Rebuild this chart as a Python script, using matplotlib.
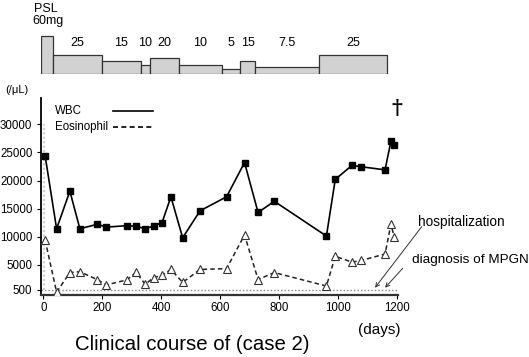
import numpy as np
import matplotlib
matplotlib.use("Agg")
import matplotlib.pyplot as plt

plt.rcParams['font.family'] = ['Liberation Sans', 'DejaVu Sans']

# ---- data ----
days = [6, 45, 90, 124, 183, 214, 284, 315, 346, 374, 403, 433, 473, 532,
        622, 683, 729, 784, 961, 991, 1048, 1079, 1160, 1180, 1191]
wbc = [24400, 11400, 18100, 11400, 12200, 11700, 11950, 11850, 11400, 11900,
       12500, 17100, 9800, 14600, 17100, 23200, 14300, 16300, 10100, 20200,
       22700, 22450, 21900, 27000, 26400]
eos = [9400, 100, 3600, 3750, 2350, 1400, 2300, 3650, 1500, 2700,
       3100, 4150, 1850, 4150, 4300, 10300, 2350, 3600, 1200, 6500,
       5450, 5750, 6900, 12200, 10000]

psl_start = [-9, 34, 198, 331, 362, 460, 606, 668, 719, 936]
psl_end = [34, 198, 331, 362, 460, 606, 668, 719, 936, 1168]
psl_dose = [60, 25, 15, 10, 20, 10, 5, 15, 7.5, 25]
psl_labels = ["", "25", "15", "10", "20", "10", "5", "15", "7.5", "25"]

yticks = [500, 5000, 10000, 15000, 20000, 25000, 30000]
xticks = [0, 200, 400, 600, 800, 1000, 1200]

W, H = 529, 357
fig = plt.figure(figsize=(W / 100, H / 100), dpi=100)

def fx(px):
    return px / W

def fy(py):
    return 1 - py / H

XLIM = (-9, 1204)

# ---- main axes ----
ax = fig.add_axes([fx(40.7), fy(295), fx(398) - fx(40.7), fy(98) - fy(295)])
ax.set_xlim(*XLIM)
ax.set_ylim(-400, 34700)

ax.axhline(500, color='#888888', lw=1.0, ls=(0, (1, 1.5)), zorder=1)
ax.plot([3, 3], [500, 30000], color='#cfcfcf', lw=1.6, ls=(0, (1, 1)), zorder=1)

ax.plot(days, wbc, color='black', lw=1.2, marker='s', ms=4,
        mfc='black', mec='black', zorder=3)
ax.plot(days, eos, color='#222222', lw=1.1, ls=(0, (3, 2)), marker='^', ms=5.5,
        mfc='white', mec='#333333', mew=0.8, zorder=3)

ax.spines['top'].set_visible(False)
ax.spines['right'].set_visible(False)
ax.spines['left'].set_linewidth(1.3)
ax.spines['bottom'].set_linewidth(1.6)
ax.spines['bottom'].set_color('#333333')
ax.set_xticks(xticks)
ax.set_yticks(yticks)
ax.tick_params(axis='both', labelsize=8.3, length=3, width=0.8, pad=2)
ax.tick_params(axis='y', pad=3)

# legend (manual)
ax.text(0.040, 0.934, "WBC", transform=ax.transAxes, fontsize=8.3, va='center', ha='left')
ax.text(0.040, 0.855, "Eosinophil", transform=ax.transAxes, fontsize=8.3, va='center', ha='left')
ax.plot([0.203, 0.315], [0.934, 0.934], transform=ax.transAxes, color='black', lw=1.2)
ax.plot([0.203, 0.315], [0.855, 0.855], transform=ax.transAxes, color='black', lw=1.2,
        ls=(0, (3, 2)))

# death mark
fig.text(fx(397), fy(108), "\u2020", fontsize=15, family='DejaVu Serif',
         ha='center', va='center', fontweight='bold')

# annotations
fig.text(fx(418), fy(222), "hospitalization", fontsize=9.8, ha='left', va='center')
fig.text(fx(412), fy(260), "diagnosis of MPGN", fontsize=9.7, ha='left', va='center')
ax.annotate("", xy=(1126, 900), xycoords='data',
            xytext=(fx(421.7), fy(226.7)), textcoords='figure fraction',
            arrowprops=dict(arrowstyle='->', color='#333333', lw=0.7,
                            shrinkA=0, shrinkB=0, mutation_scale=7))
ax.annotate("", xy=(1160, 900), xycoords='data',
            xytext=(fx(402.7), fy(268.3)), textcoords='figure fraction',
            arrowprops=dict(arrowstyle='->', color='#333333', lw=0.7,
                            shrinkA=0, shrinkB=0, mutation_scale=7))

fig.text(fx(5), fy(90), "(/\u03bcL)", fontsize=8, ha='left', va='center')
fig.text(fx(379.5), fy(330), "(days)", fontsize=11, ha='center', va='center')
fig.text(fx(192), fy(344), "Clinical course of (case 2)", fontsize=14.7,
         ha='center', va='center')

# ---- PSL axes ----
axp = fig.add_axes([fx(40.7), fy(74), fx(398) - fx(40.7), fy(0) - fy(74)])
axp.set_xlim(*XLIM)
axp.set_yscale('function', functions=(lambda v: np.power(np.maximum(v, 0), 0.8),
                                      lambda v: np.power(np.maximum(v, 0), 1.25)))
axp.set_ylim(0, 136.6)
for s, e, d, lab in zip(psl_start, psl_end, psl_dose, psl_labels):
    axp.bar(s, d, width=e - s, align='edge', color='#d2d2d2',
            edgecolor='#333333', linewidth=0.9)
    if lab:
        axp.text((s + e) / 2, 0.42, lab, transform=axp.get_xaxis_transform(),
                 fontsize=9, ha='center', va='center')
axp.text(0.013, 0.885, "PSL", transform=axp.transAxes, fontsize=9, ha='center', va='center')
axp.text(0.020, 0.72, "60mg", transform=axp.transAxes, fontsize=9, ha='center', va='center')
axp.axis('off')

fig.savefig("out.png", dpi=100)
